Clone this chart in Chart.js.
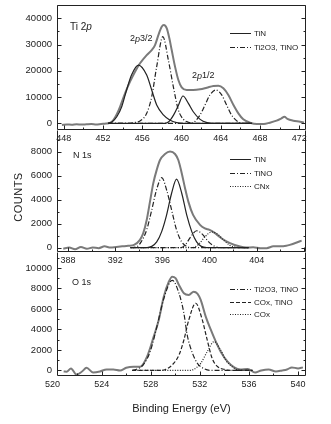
<!DOCTYPE html>
<html>
<head>
<meta charset="utf-8">
<title>XPS Ti 2p / N 1s / O 1s</title>
<script src="https://cdn.jsdelivr.net/npm/chart.js@4.4.1/dist/chart.umd.min.js"></script>
<style>
  html, body { margin: 0; padding: 0; background: #fff; }
  #wrap { position: relative; width: 331px; height: 424px; overflow: hidden; }
  canvas { position: absolute; left: 0; }
  #c1 { top: 0; }
  #c2 { top: 130px; }
  #c3 { top: 252px; }
  #counts {
    position: absolute; left: -17px; top: 191px; width: 70px; text-align: center;
    font: 11px Arial, "Liberation Sans", sans-serif; color: #222; letter-spacing: 0.5px;
    transform: rotate(-90deg);
  }
</style>
</head>
<body>
<div id="wrap">
  <canvas id="c1" width="331" height="144"></canvas>
  <canvas id="c2" width="331" height="136"></canvas>
  <canvas id="c3" width="331" height="172"></canvas>
  <div id="counts">COUNTS</div>
</div>
<script>
// ---- Ti 2p : [binding energy eV, counts] ----
const ti2pXTicks = [448, 452, 456, 460, 464, 468, 472];
const ti2pYTicks = [0, 10000, 20000, 30000, 40000];
const ti2pMeasured = [[447.8,-600],[448.3,-450],[448.8,-550],[449.3,-350],[449.8,-500],[450.3,-400],[450.8,-300],
  [451.3,-450],[451.8,-250],[452.3,-100],[452.7,200],[453.05,1260],[453.4,3500],[453.73,6300],[454.24,11400],
  [454.75,15850],[455.26,19660],[455.77,22860],[456.45,26000],[456.96,27900],[457.3,29800],[457.64,33600],
  [457.98,36800],[458.2,37450],[458.5,36200],[458.76,32400],[459.0,27900],[459.34,21600],[459.68,16500],
  [460.02,13700],[460.53,12700],[461.2,12700],[461.9,12950],[462.58,13560],[463.26,14200],[463.76,14330],
  [464.27,13330],[464.78,10780],[465.3,6970],[465.8,3800],[466.3,1520],[467.0,230],[467.7,-270],[468.4,-270],
  [469.0,230],[469.7,1000],[470.2,1900],[470.5,2500],[470.8,1700],[471.4,1000],[472.1,600],[472.5,250]];
const ti2pTiN32 = [[452.5,0],[452.9,500],[453.4,2500],[453.9,6300],[454.4,12700],[454.9,18400],[455.6,22200],
  [456.45,18400],[456.96,12700],[457.47,7000],[458.15,3200],[458.8,1260],[459.5,250],[460.2,0],[467.2,0]];
const ti2pTiN12 = [[452.5,0],[458.3,0],[458.7,600],[459.2,3200],[459.7,7000],[460.15,10400],[460.7,7600],
  [461.2,4400],[461.9,1500],[462.6,250],[463.2,0],[467.2,0]];
const ti2pOx32 = [[452.5,0],[454.6,0],[455.1,250],[455.8,1000],[456.45,3800],[456.96,10100],[457.47,21600],
  [458.1,33000],[458.66,24100],[459.17,13900],[459.68,5070],[460.2,1500],[460.7,400],[461.2,0],[467.2,0]];
const ti2pOx12 = [[452.5,0],[461.0,0],[461.4,800],[461.9,3200],[462.4,7000],[462.9,10800],[463.5,12700],
  [464.1,10800],[464.6,7000],[465.1,3200],[465.8,500],[466.3,0],[467.2,0]];

// ---- N 1s ----
const n1sXTicks = [388, 392, 396, 400, 404];
const n1sYTicks = [0, 2000, 4000, 6000, 8000];
const n1sMeasured = [[387.6,-100],[388.1,0],[388.6,-150],[389.1,50],[389.6,-100],[390.1,0],[390.6,-50],
  [391.1,100],[391.6,0],[392.1,50],[392.6,100],[393.1,150],[393.6,225],[394.1,640],[394.38,1200],[394.67,2300],
  [394.95,3830],[395.23,5370],[395.52,6475],[395.8,7300],[396.22,7800],[396.65,8000],[397.07,7800],[397.35,7300],
  [397.64,6200],[397.92,4950],[398.2,3830],[398.6,2725],[399.19,1890],[399.6,1600],[400.0,1475],[400.46,1200],
  [401.0,780],[401.73,370],[402.58,85],[403.1,0],[403.7,30],[404.3,-50],[404.84,-50],[405.4,100],[406.0,100],
  [406.5,150],[406.8,225],[407.38,420],[407.8,580]];
const n1sTiN = [[393.3,0],[394.7,0],[395.1,100],[395.52,470],[395.94,1330],[396.36,2725],[396.78,4530],
  [397.2,5700],[397.64,4530],[398.06,2725],[398.49,1330],[398.9,470],[399.3,100],[399.75,0],[403.3,0]];
const n1sTiNO = [[393.3,0],[393.8,50],[394.2,470],[394.67,1475],[395.1,3140],[395.5,4800],[395.95,5830],
  [396.36,4800],[396.78,3140],[397.2,1475],[397.64,470],[398.06,100],[398.5,0],[403.3,0]];
const n1sTiNO2 = [[393.3,0],[397.6,0],[398.0,300],[398.4,900],[398.9,1400],[399.4,1100],[399.9,500],
  [400.4,120],[400.9,0],[403.3,0]];
const n1sCNx = [[393.3,0],[398.6,0],[399.1,300],[399.6,900],[400.2,1300],[400.7,1100],[401.2,600],
  [401.7,200],[402.2,30],[402.6,0],[403.3,0]];

// ---- O 1s ----
const o1sXTicks = [520, 524, 528, 532, 536, 540];
const o1sYTicks = [0, 2000, 4000, 6000, 8000, 10000];
const o1sMeasured = [[520.9,-100],[521.14,-120],[521.5,200],[521.95,-400],[522.4,-100],[522.77,260],
  [523.3,-200],[523.86,-100],[524.4,100],[524.95,100],[525.5,0],[526.0,260],[526.6,360],[527.15,370],
  [527.7,1350],[528.24,3300],[528.65,4930],[529.06,7200],[529.47,8660],[529.75,9150],[530.02,9000],
  [530.3,8340],[530.7,7530],[531.1,7370],[531.5,7690],[531.8,7500],[532.07,6880],[532.48,5250],[532.9,3950],
  [533.3,2810],[533.7,1830],[534.26,860],[534.8,310],[535.3,100],[535.9,150],[536.5,-200],[537.0,0],
  [537.6,100],[538.2,-100],[538.7,0],[539.1,100],[539.5,300],[540.0,200],[540.4,300]];
const o1sTi2O3 = [[526.5,0],[526.8,100],[527.4,580],[527.95,1830],[528.5,4270],[529.06,7000],[529.75,8800],
  [530.3,7530],[530.7,5580],[530.97,3460],[531.4,1680],[531.8,700],[532.3,200],[532.9,0],[536.3,0]];
const o1sCOxTiNO = [[526.5,0],[528.6,0],[529.2,100],[529.75,540],[530.3,1510],[530.7,2975],[531.1,4930],
  [531.66,6560],[532.2,4930],[532.6,2975],[533.0,1190],[533.4,420],[534.0,100],[534.5,0],[536.3,0]];
const o1sCOx = [[526.5,0],[531.0,0],[531.5,100],[532.07,700],[532.6,1830],[533.16,2810],[533.7,2000],
  [534.1,1020],[534.7,310],[535.3,0],[536.3,0]];

const FONT = 'Arial, "Liberation Sans", sans-serif';
Chart.defaults.font.family = FONT;
Chart.defaults.color = '#222';

const DASHDOT = [5, 2, 1, 2];
const LONGDASH = [4, 2];
const DOTTED = [1, 1.5];

const pts = arr => arr.map(p => ({ x: p[0], y: p[1] }));

function measured(data) {
    return { label: 'measured', data: pts(data), borderColor: '#7a7a7a', borderWidth: 2 };
}
function component(label, data, dash) {
    return { label: label, data: pts(data), borderColor: '#222', borderWidth: 1.2, borderDash: dash || [] };
}

// Frame, inward ticks, inside legend and peak notes for each panel
const decor = {
    c1: {
        topLine: true, xMajor: 4, xMinor: 2, yMajor: 10000, yMinor: 5000,
        legend: { x: 230, y: 33, gap: 14, len: 21, sets: [0, 2] },
        notes: [
            { x: 70, y: 27, size: 10, parts: [['Ti 2', ''], ['p', 'italic ']] },
            { x: 130, y: 39, size: 9, parts: [['2', ''], ['p', 'italic '], ['3/2', '']] },
            { x: 192, y: 76, size: 9, parts: [['2', ''], ['p', 'italic '], ['1/2', '']] }
        ]
    },
    c2: {
        topLine: false, xMajor: 4, xMinor: 2, yMajor: 2000, yMinor: 1000,
        legend: { x: 230, y: 29, gap: 13.5, len: 21, sets: [0, 1, 3] },
        notes: [{ x: 73, y: 26, size: 9, parts: [['N 1s', '']] }]
    },
    c3: {
        topLine: false, xMajor: 4, xMinor: 2, yMajor: 2000, yMinor: 1000,
        legend: { x: 230, y: 37, gap: 12.5, len: 21, sets: [0, 1, 2] },
        notes: [{ x: 72, y: 31, size: 9, parts: [['O 1s', '']] }]
    }
};

const panelDecor = {
    id: 'panelDecor',
    afterDraw(chart) {
        const o = decor[chart.canvas.id];
        if (!o) return;
        const { ctx, chartArea: a } = chart;
        const xs = chart.scales.x, ys = chart.scales.y;
        const L = Math.round(a.left) + 0.5, R = Math.round(a.right) - 0.5;
        const T = Math.round(a.top) + 0.5, B = Math.round(a.bottom) - 0.5;
        ctx.save();
        ctx.strokeStyle = '#222';
        ctx.lineWidth = 1;
        ctx.setLineDash([]);
        ctx.beginPath();
        ctx.moveTo(L, T); ctx.lineTo(L, B); ctx.lineTo(R, B); ctx.lineTo(R, T);
        if (o.topLine) ctx.lineTo(L, T);
        for (let v = Math.ceil(xs.min / o.xMinor) * o.xMinor; v <= xs.max; v += o.xMinor) {
            const px = Math.round(xs.getPixelForValue(v)) + 0.5;
            const len = Math.abs(v % o.xMajor) < 1e-6 ? 4 : 2;
            ctx.moveTo(px, B); ctx.lineTo(px, B - len);
        }
        for (let v = Math.ceil(ys.min / o.yMinor) * o.yMinor; v <= ys.max; v += o.yMinor) {
            const py = Math.round(ys.getPixelForValue(v)) + 0.5;
            const len = Math.abs(v % o.yMajor) < 1e-6 ? 4 : 2;
            ctx.moveTo(L, py); ctx.lineTo(L + len, py);
            ctx.moveTo(R, py); ctx.lineTo(R - len, py);
        }
        ctx.stroke();

        // legend inside the plot
        const lg = o.legend;
        ctx.font = '8px ' + FONT;
        ctx.textBaseline = 'middle';
        ctx.textAlign = 'left';
        ctx.fillStyle = '#222';
        lg.sets.forEach((di, i) => {
            const ds = chart.data.datasets[di];
            const yy = Math.round(lg.y + i * lg.gap) + 0.5;
            ctx.beginPath();
            ctx.setLineDash(ds.borderDash || []);
            ctx.strokeStyle = ds.borderColor;
            ctx.lineWidth = 1;
            ctx.moveTo(lg.x, yy); ctx.lineTo(lg.x + lg.len, yy);
            ctx.stroke();
            ctx.fillText(ds.label, lg.x + lg.len + 3, yy);
        });

        // peak notes
        o.notes.forEach(n => {
            let x = n.x;
            n.parts.forEach(([txt, style]) => {
                ctx.font = style + n.size + 'px ' + FONT;
                ctx.fillText(txt, x, n.y);
                x += ctx.measureText(txt).width;
            });
        });
        ctx.restore();
    }
};

function makePanel(id, cfg) {
    return new Chart(document.getElementById(id), {
        type: 'line',
        data: { datasets: cfg.datasets },
        plugins: [panelDecor],
        options: {
            responsive: false,
            animation: false,
            events: [],
            layout: { padding: { top: cfg.padTop, right: 25, left: 0, bottom: 0 } },
            elements: {
                point: { radius: 0 },
                line: { fill: false, cubicInterpolationMode: 'monotone' }
            },
            scales: {
                x: {
                    type: 'linear', min: cfg.xMin, max: cfg.xMax, bounds: 'data',
                    grid: { display: false, drawTicks: false },
                    border: { display: false },
                    ticks: { autoSkip: false, maxRotation: 0, padding: 3, font: { size: 9 }, color: '#222',
                             callback: v => String(v) },
                    afterBuildTicks: s => { s.ticks = cfg.xTicks.map(v => ({ value: v })); },
                    afterFit: s => { s.height = cfg.xHeight; s.paddingLeft = 0; s.paddingRight = 0; },
                    title: cfg.xTitle ? {
                        display: true, text: cfg.xTitle, color: '#222',
                        font: { size: 11 }, padding: { top: 0, bottom: 8 }
                    } : { display: false }
                },
                y: {
                    type: 'linear', min: cfg.yMin, max: cfg.yMax, bounds: 'data',
                    grid: { display: false, drawTicks: false },
                    border: { display: false },
                    ticks: { autoSkip: false, padding: 5, font: { size: 9.5 }, color: '#222',
                             callback: v => String(v) },
                    afterBuildTicks: s => { s.ticks = cfg.yTicks.map(v => ({ value: v })); },
                    afterFit: s => { s.width = 57; s.paddingTop = 0; s.paddingBottom = 0; }
                }
            },
            plugins: { legend: { display: false }, tooltip: { enabled: false } }
        }
    });
}

makePanel('c1', {
    padTop: 5, xHeight: 14,
    xMin: 447.3, xMax: 472.7, yMin: -2550, yMax: 45070,
    xTicks: ti2pXTicks, yTicks: ti2pYTicks,
    datasets: [
        component('TiN', ti2pTiN32),
        component('TiN 2p1/2', ti2pTiN12),
        component('Ti2O3, TiNO', ti2pOx32, DASHDOT),
        component('Ti2O3, TiNO 2p1/2', ti2pOx12, DASHDOT),
        measured(ti2pMeasured)
    ]
});

makePanel('c2', {
    padTop: 0, xHeight: 14,
    xMin: 387.07, xMax: 408.17, yMin: -370, yMax: 9800,
    xTicks: n1sXTicks, yTicks: n1sYTicks,
    datasets: [
        component('TiN', n1sTiN),
        component('TiNO', n1sTiNO, DASHDOT),
        component('TiNO (2)', n1sTiNO2, DASHDOT),
        component('CNx', n1sCNx, DOTTED),
        measured(n1sMeasured)
    ]
});

makePanel('c3', {
    padTop: 0, xHeight: 48, xTitle: 'Binding Energy (eV)',
    xMin: 520.36, xMax: 540.65, yMin: -540, yMax: 11560,
    xTicks: o1sXTicks, yTicks: o1sYTicks,
    datasets: [
        component('Ti2O3, TiNO', o1sTi2O3, DASHDOT),
        component('COx, TiNO', o1sCOxTiNO, LONGDASH),
        component('COx', o1sCOx, DOTTED),
        measured(o1sMeasured)
    ]
});
</script>
</body>
</html>
